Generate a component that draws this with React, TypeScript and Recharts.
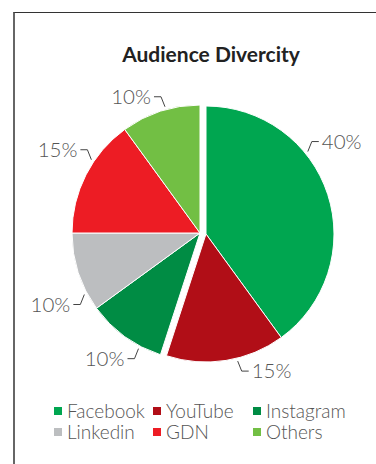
import { PieChart, Pie, Cell, Legend } from "recharts";

const channels = ["Facebook", "YouTube", "Instagram", "Linkedin", "GDN", "Others"];
const shares = [40, 15, 10, 10, 15, 10];
const colors = ["#00A650", "#B10E17", "#008C44", "#BCBEC0", "#ED1C24", "#72BF44"];

// slices pulled out of the pie (drawn by a second, shifted Pie)
const pulled = [true, true, false, false, false, false];
// small angle nudges so labels land where the original put them
const labelShift = [21, 5, 8, 10, -7, -2.5];

const data = channels.map((name, i) => ({ name, value: shares[i] }));

const RAD = Math.PI / 180;
const FONT = "Lato, 'Noto Sans', sans-serif";

function renderLabel(p: any, showPulled: boolean) {
	const i = p.index;
	if (pulled[i] !== showPulled) return <g />;
	const a = (p.midAngle + labelShift[i]) * RAD;
	const r = p.outerRadius + 3;
	const px = p.cx + r * Math.cos(a);
	const py = p.cy - r * Math.sin(a);
	const sx = Math.cos(a) >= 0 ? 1 : -1;
	const sy = Math.sin(a) >= 0 ? -1 : 1;
	const qx = px + sx * 4;
	const qy = py + sy * 10;
	const hx = qx + sx * 7;
	return (
		<g>
			<polyline
				points={`${px},${py} ${qx},${qy} ${hx},${qy}`}
				fill="none"
				stroke="#444"
				strokeWidth={1}
			/>
			<text
				x={hx + sx * 3}
				y={qy - 1}
				textAnchor={sx > 0 ? "start" : "end"}
				dominantBaseline="central"
				fill="#555"
				fontFamily={FONT}
				fontWeight={300}
				fontSize={20.5}
			>
				{`${shares[i]}%`}
			</text>
		</g>
	);
}

function LegendGrid() {
	return (
		<div
			style={{
				display: "grid",
				gridTemplateColumns: "99px 100px 110px",
				fontFamily: FONT,
				fontWeight: 300,
				fontSize: 19,
				lineHeight: "21px",
				color: "#555",
				whiteSpace: "nowrap",
			}}
		>
			{channels.map((n, i) => (
				<div key={n} style={{ display: "flex", alignItems: "center" }}>
					<span
						style={{
							width: 8,
							height: 8,
							background: colors[i],
							marginRight: 5,
							display: "inline-block",
							flex: "none",
						}}
					/>
					{n}
				</div>
			))}
		</div>
	);
}

export default function App() {
	return (
		<div
			style={{
				position: "absolute",
				left: 0,
				top: 0,
				width: 376,
				height: 464,
				overflow: "hidden",
				background: "#fff",
			}}
		>
			<div
				style={{
					position: "absolute",
					left: 13,
					top: 12,
					width: 420,
					height: 520,
					borderTop: "1px solid #333",
					borderLeft: "2px solid #666",
				}}
			/>
			<div
				style={{
					position: "absolute",
					left: 0,
					width: 422,
					top: 41,
					textAlign: "center",
					fontFamily: FONT,
					fontWeight: 700,
					fontSize: 21,
					lineHeight: "26px",
					color: "#222",
				}}
			>
				Audience Divercity
			</div>
			<PieChart
				width={376}
				height={464}
				style={{ position: "absolute", left: 0, top: 0 }}
				margin={{ top: 0, right: 0, bottom: 0, left: 0 }}
			>
				<Pie
					data={data}
					dataKey="value"
					nameKey="name"
					cx={200}
					cy={233}
					outerRadius={128}
					startAngle={90}
					endAngle={-270}
					stroke="#fff"
					strokeWidth={1}
					labelLine={false}
					label={(p: any) => renderLabel(p, false)}
					isAnimationActive={false}
				>
					{data.map((d, i) => (
						<Cell
							key={d.name}
							fill={pulled[i] ? "transparent" : colors[i]}
							stroke={pulled[i] ? "none" : "#fff"}
						/>
					))}
				</Pie>
				<Pie
					data={data}
					dataKey="value"
					nameKey="name"
					cx={206}
					cy={234}
					outerRadius={128}
					startAngle={90}
					endAngle={-270}
					stroke="#fff"
					strokeWidth={1}
					labelLine={false}
					label={(p: any) => renderLabel(p, true)}
					isAnimationActive={false}
				>
					{data.map((d, i) => (
						<Cell
							key={d.name}
							fill={pulled[i] ? colors[i] : "transparent"}
							stroke={pulled[i] ? "#fff" : "none"}
						/>
					))}
				</Pie>
				<Legend
					content={() => <LegendGrid />}
					wrapperStyle={{ position: "absolute", left: 54, top: 400, width: 320 }}
				/>
			</PieChart>
		</div>
	);
}
